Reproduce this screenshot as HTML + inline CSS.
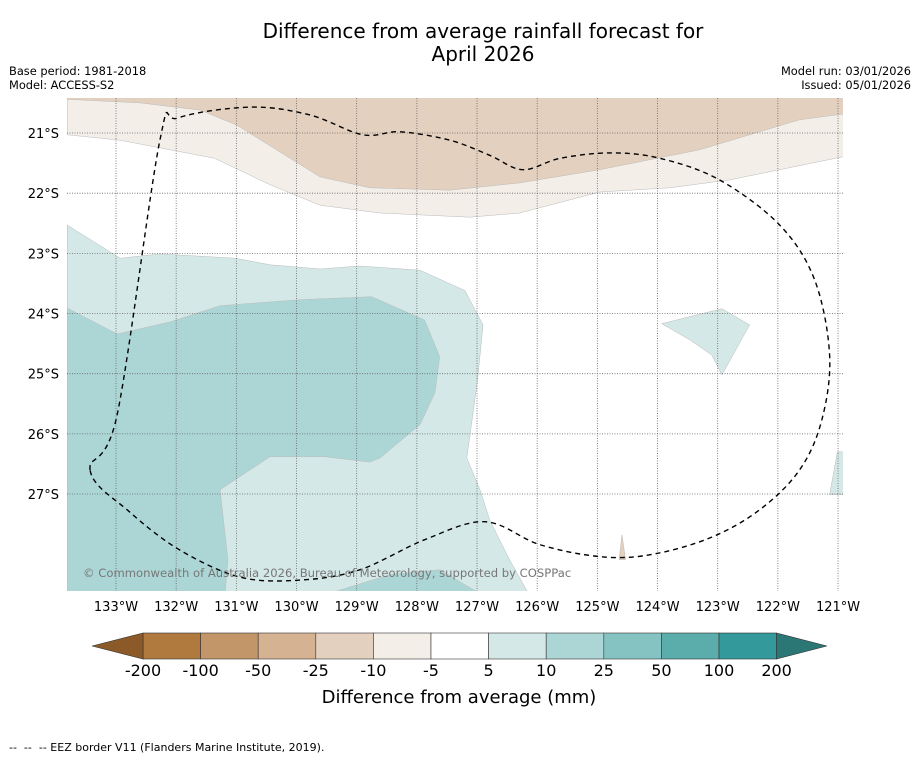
<!DOCTYPE html>
<html><head><meta charset="utf-8"><style>
body{margin:0;background:#fff;font-family:"Liberation Sans","DejaVu Sans",sans-serif;}
svg text{font-family:"DejaVu Sans","Liberation Sans",sans-serif;}
</style></head><body>
<svg id="chart" width="919" height="758" viewBox="0 0 919 758" xmlns="http://www.w3.org/2000/svg">
<rect width="919" height="758" fill="#fff"/>
<text x="483" y="38" text-anchor="middle" font-size="20">Difference from average rainfall forecast for</text>
<text x="483" y="61" text-anchor="middle" font-size="20">April 2026</text>
<text x="9" y="75" font-size="11.4">Base period: 1981-2018</text>
<text x="9" y="89" font-size="11.4">Model: ACCESS-S2</text>
<text x="911" y="75" font-size="11.4" text-anchor="end">Model run: 03/01/2026</text>
<text x="911" y="89" font-size="11.4" text-anchor="end">Issued: 05/01/2026</text>
<defs><clipPath id="mapclip"><rect x="67" y="98" width="776" height="493"/></clipPath></defs>
<g id="map" clip-path="url(#mapclip)"></g>
<g id="axes"></g>
<g id="cbar"></g>
<text x="459" y="703" text-anchor="middle" font-size="18">Difference from average (mm)</text>
<text x="9" y="751" font-size="11" style="white-space:pre" xml:space="preserve">--  --  -- EEZ border V11 (Flanders Marine Institute, 2019).</text>
</svg>
<script>
const lonTicks=[133,132,131,130,129,128,127,126,125,124,123,122,121];
const latTicks=[21,22,23,24,25,26,27];
const cbarLevels=[-200,-100,-50,-25,-10,-5,5,10,25,50,100,200];
const cbarColors=["#b07a3f","#c29669","#d4b292","#e3d0bf","#f3eee8","#ffffff","#d4e8e7","#acd6d6","#84c3c1","#5aadab","#33999a"];
const brownBand=[[133.81,20.3],[120.8,20.3],[120.8,20.67],[121.64,20.78],[123.3,21.28],[124.96,21.61],[126.29,21.83],[127.45,21.95],[128.78,21.91],[129.61,21.73],[130.99,20.87],[131.6,20.62],[132.6,20.5],[133.81,20.44]];
const lightBrownBand=[[133.81,20.3],[120.8,20.3],[120.8,21.37],[122.8,21.78],[123.8,21.91],[124.96,21.98],[126.29,22.33],[127.12,22.4],[128.61,22.33],[129.61,22.2],[130.44,21.86],[131.36,21.42],[132.93,21.12],[133.81,21.03]];
const lightTeal=[[133.81,22.53],[132.93,23.08],[132.27,23.01],[131.02,23.08],[130.44,23.19],[129.61,23.26],[128.95,23.21],[127.95,23.28],[127.2,23.62],[126.9,24.19],[126.99,25.1],[127.17,26.4],[126.95,26.93],[126.79,27.43],[126.46,28.09],[126.12,28.7],[133.81,28.7]];
const lightTealBlob=[[123.93,24.17],[122.93,23.92],[122.47,24.19],[122.93,25.02],[123.1,24.69],[123.46,24.44]];
const lightTealEdge=[[121.14,27.01],[121.01,26.3],[120.8,26.3],[120.8,27.01]];
const midTeal=[[133.81,23.91],[132.98,24.34],[132.1,24.14],[131.27,23.87],[129.94,23.77],[128.75,23.72],[127.87,24.11],[127.62,24.72],[127.7,25.32],[127.95,25.85],[128.61,26.4],[128.78,26.47],[129.53,26.38],[130.44,26.38],[131.27,26.93],[131.14,28.09],[131.19,28.7],[133.81,28.7]];
const midTealBottom=[[129.61,28.7],[128.45,28.34],[127.62,28.26],[126.87,28.7]];
const brownSpike=[[124.64,28.09],[124.59,27.68],[124.53,28.09]];
const eez=[[133.43,26.6],[132.98,25.68],[132.27,21.12],[131.97,20.75],[130.77,20.57],[129.78,20.7],[128.9,21.03],[128.28,20.98],[127.45,21.12],[126.79,21.37],[126.24,21.61],[125.62,21.42],[124.79,21.33],[123.96,21.42],[122.97,21.78],[121.97,22.53],[121.39,23.44],[121.14,24.69],[121.27,25.77],[121.64,26.6],[122.3,27.26],[123.13,27.73],[124.13,28.01],[124.96,28.04],[125.96,27.84],[126.87,27.46],[127.87,27.76],[128.95,28.26],[129.94,28.43],[130.94,28.38],[131.94,27.93],[132.77,27.3],[133.43,26.6]];
const NS="http://www.w3.org/2000/svg";
const X=lon=>116+(133-lon)*60.17;
const Y=lat=>133+(lat-21)*60.17;
function mk(tag,attrs,parent){const e=document.createElementNS(NS,tag);for(const k in attrs)e.setAttribute(k,attrs[k]);parent.appendChild(e);return e;}
const map=document.getElementById('map');
mk('rect',{x:67,y:98,width:776,height:493,fill:'#fff'},map);
function poly(pts,fill,name){const e=mk('polygon',{points:pts.map(p=>X(p[0]).toFixed(1)+','+Y(p[1]).toFixed(1)).join(' '),fill:fill,stroke:'#bbb','stroke-width':0.5},map);

}
poly(lightBrownBand,'#f3eee8','contour-minus10-to-minus5');
poly(brownBand,'#e3d0bf','contour-minus25-to-minus10');
poly(lightTeal,'#d4e8e7','contour-5-to-10');
poly(lightTealBlob,'#d4e8e7','contour-5-to-10-east');
poly(lightTealEdge,'#d4e8e7','contour-5-to-10-edge');
poly(midTeal,'#acd6d6','contour-10-to-25');
poly(midTealBottom,'#acd6d6','contour-10-to-25-south');
poly(brownSpike,'#e3d0bf','contour-minus-spike');
lonTicks.forEach(l=>{const g=mk('line',{x1:X(l),x2:X(l),y1:98,y2:591,stroke:'#666','stroke-width':0.8,'stroke-dasharray':'1,1.5'},map);

});
latTicks.forEach(l=>{const g=mk('line',{x1:67,x2:843,y1:Y(l),y2:Y(l),stroke:'#666','stroke-width':0.8,'stroke-dasharray':'1,1.5'},map);

});
// smooth closed Catmull-Rom path for EEZ
const P=eez.slice(0,-1).map(p=>[X(p[0]),Y(p[1])]);const n=P.length;
let d='M'+P[0][0].toFixed(1)+','+P[0][1].toFixed(1);
for(let i=0;i<n;i++){const p0=P[(i-1+n)%n],p1=P[i],p2=P[(i+1)%n],p3=P[(i+2)%n];
const c1=[p1[0]+(p2[0]-p0[0])/6,p1[1]+(p2[1]-p0[1])/6],c2=[p2[0]-(p3[0]-p1[0])/6,p2[1]-(p3[1]-p1[1])/6];
d+=` C${c1[0].toFixed(1)},${c1[1].toFixed(1)} ${c2[0].toFixed(1)},${c2[1].toFixed(1)} ${p2[0].toFixed(1)},${p2[1].toFixed(1)}`;}
const ez=mk('path',{d:d,fill:'none',stroke:'#000','stroke-width':1.4,'stroke-dasharray':'5,4'},map);


const cp=mk('text',{x:83,y:577,'font-size':11.6,fill:'#777'},map);cp.textContent='© Commonwealth of Australia 2026, Bureau of Meteorology, supported by COSPPac';


const axes=document.getElementById('axes');
lonTicks.forEach(l=>{const t=mk('text',{x:X(l),y:611,'font-size':13,'text-anchor':'middle'},axes);t.textContent=l+'°W';

});
latTicks.forEach(l=>{const t=mk('text',{x:59,y:Y(l)+5,'font-size':13,'text-anchor':'end'},axes);t.textContent=l+'°S';

});
const cb=document.getElementById('cbar');const cx0=143,cw=57.6,cy=633,ch=26;
cbarColors.forEach((c,i)=>{const r=mk('rect',{x:cx0+i*cw,y:cy,width:cw,height:ch,fill:c,stroke:'#333','stroke-width':0.6},cb);

});
const lt=mk('polygon',{points:`${cx0},${cy} 92,${cy+ch/2} ${cx0},${cy+ch}`,fill:'#8c5a28',stroke:'#333','stroke-width':0.6},cb);


const ce=cx0+cbarColors.length*cw;
const rt=mk('polygon',{points:`${ce},${cy} 827,${cy+ch/2} ${ce},${cy+ch}`,fill:'#2a7775',stroke:'#333','stroke-width':0.6},cb);


cbarLevels.forEach((v,i)=>{const t=mk('text',{x:cx0+i*cw,y:676,'font-size':16,'text-anchor':'middle'},cb);t.textContent=v;

});
</script>
</body></html>
